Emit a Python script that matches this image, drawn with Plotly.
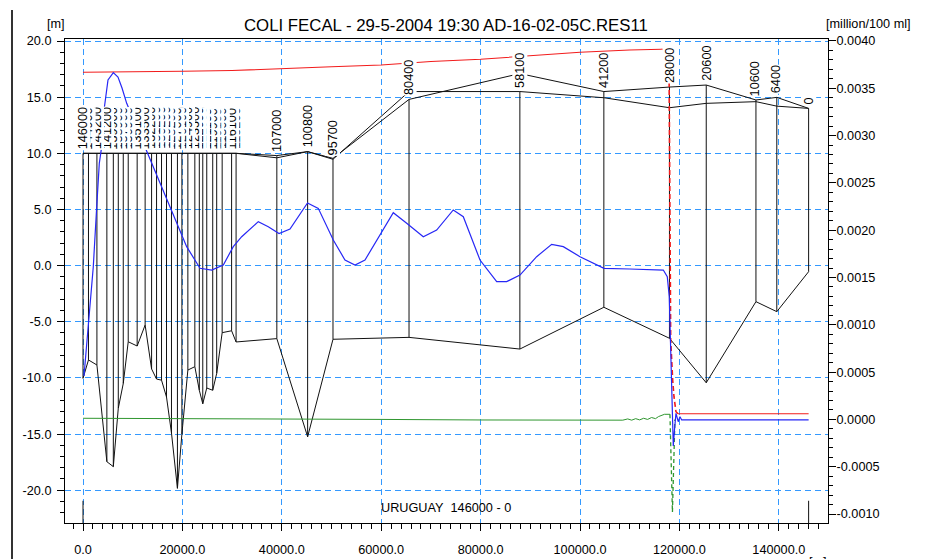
import plotly.graph_objects as go

# ---------------- data ----------------
# cross-section chainages (labels), bed level and the two bank levels [m]
sec_chainage = [146000, 144900, 143200, 141200, 139900, 138900, 137900, 136900, 135100, 133500,
                132200, 131200, 130200, 129200, 128200, 127000, 126100, 124900, 123500, 122600,
                121900, 121100, 119900, 119100, 118000, 116100, 115200,
                107000, 100800, 95700, 80400, 58100, 41200, 28000, 20600, 10600, 6400, 0]
branch_length = 146000
sec_bed = [-10.04, -8.4, -8.85, -17.46, -17.9, -12.7, -10.5, -6.78, -7.16, -5.29,
           -9.2, -10.1, -10.2, -11.7, -14.9, -19.83, -15.0, -9.3, -9.0, -11.1,
           -12.3, -10.9, -11.1, -9.6, -5.97, -5.8, -6.8,
           -6.5, -15.24, -6.56, -6.39, -7.43, -3.71, -6.47, -10.43, -3.21, -4.1, -0.54]
bank_a = [10.0] * 27 + [9.6, 10.15, 9.47, 15.5, 15.5, 14.95, 14.06, 14.45, 14.6, 14.2, 14.0]
bank_b = [10.0] * 27 + [9.8, 10.15, 9.55, 14.8, 17.1, 15.5, 15.9, 16.08, 14.75, 14.98, 14.0]
sec_top = [10.0] * 27 + [9.75, 10.15, 9.5, 14.8, 15.5, 15.5, 15.9, 16.08, 14.75, 14.98, 14.0]
sec_dist = [branch_length - c for c in sec_chainage]

# concentration [million/100 ml] along the profile
blue_x = [200, 1070, 2070, 2760, 3280, 3760, 4230, 5030, 6100, 7040,
          7850, 8790, 12470, 15490, 18850, 20860, 23540, 25890, 28230, 30240,
          31930, 35270, 37280, 39440, 41650, 45170, 47340, 50360, 52710, 54730,
          56740, 59760, 62430, 65130, 68470, 71160, 74500, 76520, 79880, 83240,
          85250, 87920, 91280, 94300, 96640, 100000, 103360, 104830, 110000, 116760,
          117560, 117960, 118250, 118450, 118650, 118770, 119010, 119310, 119770, 120120,
          120460, 146000]
blue_v = [0.000459, 0.000977, 0.001614, 0.002248, 0.002707, 0.002883, 0.003271, 0.003588, 0.003665, 0.003619,
          0.003503, 0.003341, 0.002883, 0.002499, 0.002076, 0.001826, 0.001597, 0.001579, 0.001632, 0.001826,
          0.001931, 0.00209, 0.002037, 0.001965, 0.002013, 0.002288, 0.002231, 0.001896, 0.001685, 0.001632,
          0.001685, 0.001949, 0.002185, 0.002073, 0.001931, 0.002002, 0.002214, 0.002143, 0.001685, 0.001456,
          0.001456, 0.001526, 0.00172, 0.001851, 0.001826, 0.00172, 0.001632, 0.001597, 0.00159, 0.001579,
          0.001508, 0.001297, 0.000734, 0.000311, 0.000064, -0.000281, -0.000112, 0.000064, -0.000024, 0.000029,
          -0.000006, -0.000006]

red_x = [0, 10000, 20000, 30000, 40000, 50000, 60000, 70000, 80000, 90000, 100000, 110000, 116400]
red_v = [0.003669, 0.003672, 0.003680, 0.003688, 0.003711, 0.003727, 0.003746, 0.003783, 0.003807,
         0.003841, 0.003881, 0.003905, 0.003912]
red_dash_x = [116400, 117900, 118000, 118250, 118650, 118910, 119310, 119720]
red_dash_v = [0.003912, 0.00391, 0.0030, 0.000839, 0.000416, 0.00024, 0.000081, 0.00006]
red_end_x = [119720, 146000]
red_end_v = [0.00006, 0.00006]

green_x = [0, 20000, 40000, 60000, 80000, 100000, 108600, 109600, 110400, 111200, 112000, 112800,
           113600, 114400, 115200, 115800, 116400, 117000, 118100]
green_v = [0.000012, 0.00001, 0.000004, 0.0, -0.000006, -0.000008, -0.000008, 0.000005, -0.000008,
           0.000008, -0.000005, 0.000012, 0.0, 0.00002, 0.000008, 0.00003, 0.000045, 0.000054, 0.000054]
green_dash_x = [118100, 118600, 119100]
green_dash_v = [0.000054, -0.00098, 0.0]

# axes
x_tickvals = [0, 20000, 40000, 60000, 80000, 100000, 120000, 140000]
x_ticktext = ["0.0", "20000.0", "40000.0", "60000.0", "80000.0", "100000.0", "120000.0", "140000.0"]
y_tickvals = [20, 15, 10, 5, 0, -5, -10, -15, -20]
y_ticktext = ["20.0", "15.0", "10.0", "5.0", "0.0", "-5.0", "-10.0", "-15.0", "-20.0"]
y2_tickvals = [0.004, 0.0035, 0.003, 0.0025, 0.002, 0.0015, 0.001, 0.0005, 0.0, -0.0005, -0.001]
y2_ticktext = ["0.0040", "0.0035", "0.0030", "0.0025", "0.0020", "0.0015", "0.0010", "0.0005",
               "0.0000", "-0.0005", "-0.0010"]
x_range = [-3622, 149900]
y_range = [-22.92, 20.18]
y2_range = [-0.001095, 0.004021]

title_text = "COLI FECAL - 29-5-2004 19:30 AD-16-02-05C.RES11"
branch_text = "URUGUAY\u00a0 146000 - 0"

# ---------------- layout geometry ----------------
# the page body adds an 8px offset, so margins are reduced by 8px
W, H = 932, 559
ML, MT = 57, 31
PW, PH = 763, 484
MR, MB = W - ML - PW, H - MT - PH
PLOT_LEFT, PLOT_BOTTOM = 65, 523   # plot-area edges as seen on the page


def px(xp):
    return (xp - PLOT_LEFT) / PW


def py(yp):
    return (PLOT_BOTTOM - yp) / PH


FONT = "Liberation Sans, Arial, sans-serif"
GRID = "#3399ff"

fig = go.Figure()

# vertical lines of the cross-sections
vx, vy = [], []
for d, b, t in zip(sec_dist, sec_bed, sec_top):
    vx += [d, d, None]
    vy += [b, t, None]
fig.add_trace(go.Scatter(x=vx, y=vy, mode="lines", line=dict(color="#111111", width=1),
                         hoverinfo="skip", showlegend=False))
fig.add_trace(go.Scatter(x=sec_dist, y=sec_bed, mode="lines", line=dict(color="#111111", width=1),
                         showlegend=False))
fig.add_trace(go.Scatter(x=sec_dist, y=bank_a, mode="lines", line=dict(color="#111111", width=1),
                         showlegend=False))
fig.add_trace(go.Scatter(x=sec_dist, y=bank_b, mode="lines", line=dict(color="#111111", width=1),
                         showlegend=False))
# branch start / end markers
fig.add_trace(go.Scatter(x=[sec_dist[0], sec_dist[0], None, sec_dist[-1], sec_dist[-1]],
                         y=[-20.94, y_range[0], None, -20.94, y_range[0]], mode="lines",
                         line=dict(color="#111111", width=1), showlegend=False))

# concentrations (right axis)
fig.add_trace(go.Scatter(x=green_x, y=green_v, yaxis="y2", mode="lines",
                         line=dict(color="#2f962f", width=1), showlegend=False))
fig.add_trace(go.Scatter(x=green_dash_x, y=green_dash_v, yaxis="y2", mode="lines",
                         line=dict(color="#2f962f", width=1.3, dash="4px,3px"), showlegend=False))
fig.add_trace(go.Scatter(x=red_x, y=red_v, yaxis="y2", mode="lines",
                         line=dict(color="#f21c1c", width=1.1), showlegend=False))
fig.add_trace(go.Scatter(x=red_dash_x, y=red_dash_v, yaxis="y2", mode="lines",
                         line=dict(color="#f21c1c", width=1.6, dash="5px,3px"), showlegend=False))
fig.add_trace(go.Scatter(x=red_end_x, y=red_end_v, yaxis="y2", mode="lines",
                         line=dict(color="#f21c1c", width=1.1), showlegend=False))
fig.add_trace(go.Scatter(x=blue_x, y=blue_v, yaxis="y2", mode="lines",
                         line=dict(color="#2727f5", width=1.2), showlegend=False))

annotations = []
# chainage labels; dense ones drawn right-to-left so the first label is on top
order = list(range(27))[::-1] + list(range(27, len(sec_chainage)))
for i in order:
    annotations.append(dict(x=sec_dist[i], y=sec_top[i], xref="x", yref="y",
                            text=str(sec_chainage[i]), textangle=-90, showarrow=False,
                            xanchor="center", yanchor="bottom", yshift=3,
                            bgcolor="white", borderpad=0,
                            font=dict(family=FONT, size=12.7, color="black")))

annotations += [
    dict(x=px(445.5), y=py(26), xref="paper", yref="paper", text=title_text, showarrow=False,
         xanchor="center", yanchor="middle", font=dict(family=FONT, size=16.8, color="black")),
    dict(x=px(56), y=py(24), xref="paper", yref="paper", text="[m]", showarrow=False,
         xanchor="center", yanchor="middle", font=dict(family=FONT, size=12.7, color="black")),
    dict(x=px(868), y=py(24), xref="paper", yref="paper", text="[million/100 ml]", showarrow=False,
         xanchor="center", yanchor="middle", font=dict(family=FONT, size=12.7, color="black")),
    dict(x=px(445.5), y=py(507.5), xref="paper", yref="paper", text=branch_text, showarrow=False,
         xanchor="center", yanchor="middle", font=dict(family=FONT, size=12.7, color="black")),
    dict(x=px(818), y=py(562), xref="paper", yref="paper", text="[m]", showarrow=False,
         xanchor="center", yanchor="middle", font=dict(family=FONT, size=12.7, color="black")),
]

shapes = [
    dict(type="line", xref="paper", yref="paper", x0=px(12), x1=px(12), y0=py(566), y1=py(10),
         line=dict(color="#333333", width=2)),
    dict(type="path", xref="paper", yref="paper",
         path=f"M {px(927)},{py(10)} L {px(927)},{py(13)} L {px(931)},{py(13)}",
         line=dict(color="#333333", width=1)),
]

axis_common = dict(ticks="outside", ticklen=7, tickwidth=1, tickcolor="black",
                   showline=True, linecolor="black", linewidth=1, zeroline=False,
                   tickfont=dict(family=FONT, size=12.7, color="black"), automargin=False)

fig.update_layout(
    width=W, height=H, margin=dict(l=ML, r=MR, t=MT, b=MB, pad=0),
    paper_bgcolor="white", plot_bgcolor="white", showlegend=False,
    xaxis=dict(range=x_range, tickmode="array", tickvals=x_tickvals, ticktext=x_ticktext,
               mirror=True, showgrid=True, gridcolor=GRID, gridwidth=1, griddash="6px,4px",
               ticklabelstandoff=8,
               minor=dict(dtick=2000, tick0=0, ticks="outside", ticklen=5, tickcolor="black",
                          showgrid=False),
               **axis_common),
    yaxis=dict(range=y_range, tickmode="array", tickvals=y_tickvals, ticktext=y_ticktext,
               mirror=True, showgrid=True, gridcolor=GRID, gridwidth=1, griddash="6px,4px",
               ticklabelstandoff=3,
               minor=dict(dtick=1, tick0=0, ticks="outside", ticklen=4, tickcolor="black",
                          showgrid=False),
               **axis_common),
    yaxis2=dict(range=y2_range, overlaying="y", side="right", tickmode="array",
                tickvals=y2_tickvals, ticktext=y2_ticktext, showgrid=False,
                ticklabelstandoff=-2,
                minor=dict(dtick=0.0001, tick0=0, ticks="outside", ticklen=4, tickcolor="black",
                           showgrid=False),
                **axis_common),
    annotations=annotations,
    shapes=shapes,
)

fig.write_html("out.html")
